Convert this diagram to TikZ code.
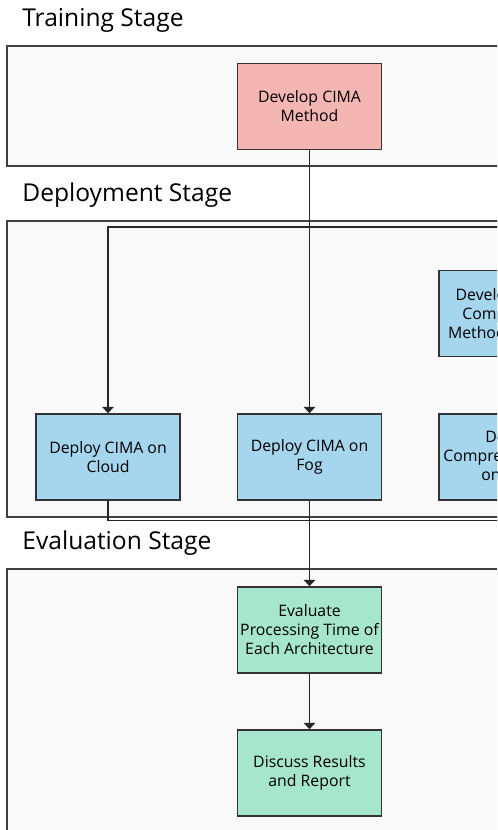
\documentclass[tikz,border=0pt]{standalone}
\usepackage{fontspec}
\setmainfont{Open Sans}
\usetikzlibrary{arrows.meta}

\definecolor{panelfill}{HTML}{F9F9F9}
\definecolor{trainred}{HTML}{F4B6B2}
\definecolor{deployblue}{HTML}{A6D5EE}
\definecolor{evalgreen}{HTML}{A6E6CC}

\begin{document}
\begin{tikzpicture}[
  x=0.02cm, y=-0.02cm,
  every node/.style={font=\fontsize{9}{10.8}\selectfont},
  panel/.style={draw=black!75, fill=panelfill, line width=0.8pt},
  stagetitle/.style={anchor=west, inner sep=0pt, font=\fontsize{14}{16}\selectfont},
  box/.style={draw=black!80, line width=0.9pt, minimum width=2.88cm,
              minimum height=1.72cm, align=center, inner sep=1pt},
  trainbox/.style={box, fill=trainred},
  deploybox/.style={box, fill=deployblue},
  evalbox/.style={box, fill=evalgreen},
  link/.style={black!85, line width=0.95pt},
  arr/.style={link, -{Triangle[width=6.5pt, length=3.6pt]}},
]

% picture frame (right and bottom of the chart are cut off)
\useasboundingbox (0,0) rectangle (497,830);
\clip (0,0) rectangle (497,830);

% ================================================================
% Stage panels
% ================================================================
\node[stagetitle] (ttrain)  at (22,20)  {Training Stage};
\node[stagetitle] (tdeploy) at (22,195) {Deployment Stage};
\node[stagetitle] (teval)   at (22,543) {Evaluation Stage};

\draw[panel] (7,46)  rectangle (540,166);
\draw[panel] (7,221) rectangle (540,517);
\draw[panel] (7,569) rectangle (540,860);

% ================================================================
% Boxes
% ================================================================
\node[trainbox]  (dev)     at (309.5,106.5) {Develop CIMA\\Method};

\node[deploybox] (cloud)   at (108,457)     {Deploy CIMA on\\Cloud};
\node[deploybox] (fog)     at (309.5,457)   {Deploy CIMA on\\Fog};
\node[deploybox] (devcomp) at (511,313.5)   {Develop Model\\Compression\\Method for CIMA};
\node[deploybox] (depcomp) at (511,457)     {Deploy\\Compressed CIMA\\on Edge};

\node[evalbox]   (eval)    at (309.5,630)   {Evaluate\\Processing Time of\\Each Architecture};
\node[evalbox]   (disc)    at (309.5,773)   {Discuss Results\\and Report};

% free ends of the routed lines (outside the visible part)
\coordinate (cloudin)  at (560,227);
\coordinate (cloudout) at (560,520.5);

% ================================================================
% Connectors
% ================================================================
\draw[arr]  (dev) -- (fog);
\draw[arr]  (cloudin) -| (cloud);
\draw[link] (cloud) |- (cloudout);
\draw[arr]  (fog) -- (eval);
\draw[arr]  (eval) -- (disc);

\end{tikzpicture}
\end{document}
